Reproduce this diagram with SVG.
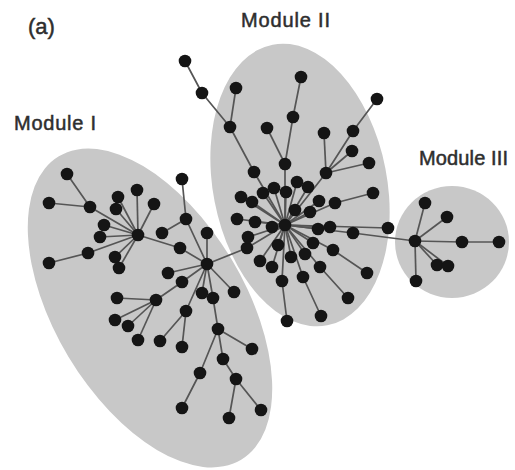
<svg xmlns="http://www.w3.org/2000/svg" width="515" height="470" viewBox="0 0 515 470">
  <style>
    .module { fill: #c8c8c8; stroke: none; }
    .edge { fill: none; stroke: #555555; stroke-width: 1.7; stroke-linejoin: round; }
    .node use { fill: #151515; }
    .label { font-family: "Liberation Sans", Arial, Helvetica, sans-serif; font-size: 20px; fill: #2e2e2e; stroke: #2e2e2e; stroke-width: 0.5; }
  </style>
  <defs>
    <circle id="dot" r="6.3"/>
  </defs>
  <rect width="515" height="470" fill="#ffffff"/>

  <!-- module backgrounds -->
  <g id="modules">
    <ellipse id="module-1" class="module" cx="150" cy="308" rx="177" ry="95" transform="rotate(59 150 308)"/>
    <ellipse id="module-2" class="module" cx="300" cy="185" rx="87" ry="143" transform="rotate(-11 300 185)"/>
    <ellipse id="module-3" class="module" cx="452" cy="242" rx="57" ry="56"/>
  </g>

  <!-- labels -->
  <text class="label" x="28" y="34" style="font-size:22px">(a)</text>
  <text class="label" x="14" y="130" textLength="82">Module I</text>
  <text class="label" x="241" y="27" textLength="89">Module II</text>
  <text class="label" x="419" y="165" textLength="89">Module III</text>

  <!-- connectors -->
  <g id="connectors" class="edge">
    <!-- module I, first hub -->
    <polyline points="67,174 90,207 138,235"/>
    <line x1="49" y1="203" x2="90" y2="207"/>
    <line x1="118" y1="197" x2="138" y2="235"/>
    <line x1="116" y1="209" x2="138" y2="235"/>
    <line x1="137" y1="190" x2="138" y2="235"/>
    <line x1="154" y1="204" x2="138" y2="235"/>
    <line x1="104" y1="225" x2="138" y2="235"/>
    <line x1="100" y1="237" x2="138" y2="235"/>
    <polyline points="49,263 88,253 138,235"/>
    <line x1="115" y1="257" x2="138" y2="235"/>
    <line x1="119" y1="268" x2="138" y2="235"/>
    <!-- module I, second hub -->
    <polyline points="138,235 180,248 207,264"/>
    <polyline points="162,233 186,219 207,264"/>
    <line x1="182" y1="179" x2="186" y2="219"/>
    <line x1="207" y1="233" x2="207" y2="264"/>
    <line x1="168" y1="273" x2="207" y2="264"/>
    <polyline points="207,264 182,282 156,300"/>
    <line x1="117" y1="298" x2="156" y2="300"/>
    <line x1="115" y1="320" x2="156" y2="300"/>
    <line x1="128" y1="326" x2="156" y2="300"/>
    <line x1="138" y1="340" x2="156" y2="300"/>
    <line x1="202" y1="293" x2="207" y2="264"/>
    <polyline points="207,264 186,311 160,341"/>
    <line x1="186" y1="311" x2="182" y2="347"/>
    <polyline points="207,264 213,298 218,329 252,349"/>
    <polyline points="218,329 200,373 182,408"/>
    <polyline points="218,329 223,359 236,379 229,418"/>
    <line x1="236" y1="379" x2="261" y2="410"/>
    <line x1="207" y1="264" x2="234" y2="292"/>
    <!-- link module I to module II -->
    <polyline points="207,264 247,248 285,225"/>
    <!-- module II branches -->
    <polyline points="185,61 202,93 230,127 254,172 285,225"/>
    <line x1="236" y1="88" x2="230" y2="127"/>
    <polyline points="301,77 293,117 285,164 285,225"/>
    <line x1="267" y1="128" x2="285" y2="164"/>
    <polyline points="377,99 353,131 326,173 285,225"/>
    <line x1="324" y1="133" x2="326" y2="173"/>
    <line x1="352" y1="151" x2="326" y2="173"/>
    <line x1="369" y1="163" x2="326" y2="173"/>
    <polyline points="373,193 335,203 285,225"/>
    <polyline points="367,273 333,250 285,225"/>
    <polyline points="348,298 320,267 285,225"/>
    <polyline points="321,316 303,277 285,225"/>
    <polyline points="287,321 282,281 285,225"/>
    <line x1="263" y1="193" x2="285" y2="225"/>
    <line x1="274" y1="188" x2="285" y2="225"/>
    <line x1="286" y1="192" x2="285" y2="225"/>
    <line x1="297" y1="182" x2="285" y2="225"/>
    <line x1="308" y1="187" x2="285" y2="225"/>
    <line x1="241" y1="197" x2="285" y2="225"/>
    <line x1="252" y1="202" x2="285" y2="225"/>
    <line x1="319" y1="201" x2="285" y2="225"/>
    <line x1="295" y1="210" x2="285" y2="225"/>
    <line x1="310" y1="212" x2="285" y2="225"/>
    <line x1="237" y1="219" x2="285" y2="225"/>
    <line x1="255" y1="222" x2="285" y2="225"/>
    <line x1="272" y1="227" x2="285" y2="225"/>
    <line x1="318" y1="229" x2="285" y2="225"/>
    <line x1="330" y1="227" x2="285" y2="225"/>
    <line x1="388" y1="228" x2="285" y2="225"/>
    <line x1="248" y1="237" x2="285" y2="225"/>
    <line x1="278" y1="245" x2="285" y2="225"/>
    <line x1="313" y1="243" x2="285" y2="225"/>
    <line x1="260" y1="261" x2="285" y2="225"/>
    <line x1="272" y1="267" x2="285" y2="225"/>
    <line x1="291" y1="257" x2="285" y2="225"/>
    <line x1="305" y1="254" x2="285" y2="225"/>
    <!-- link module II to module III -->
    <polyline points="285,225 353,233 415,241"/>
    <!-- module III -->
    <line x1="415" y1="241" x2="425" y2="203"/>
    <line x1="415" y1="241" x2="447" y2="217"/>
    <polyline points="415,241 462,242 499,242"/>
    <line x1="415" y1="241" x2="437" y2="265"/>
    <line x1="415" y1="241" x2="448" y2="266"/>
    <line x1="415" y1="241" x2="416" y2="281"/>
  </g>

  <!-- nodes: module I -->
  <g id="m1-hub-a" class="node"><use href="#dot" x="138" y="235"/></g>
  <g id="m1-a1" class="node"><use href="#dot" x="67" y="174"/></g>
  <g id="m1-a2" class="node"><use href="#dot" x="90" y="207"/></g>
  <g id="m1-a3" class="node"><use href="#dot" x="49" y="203"/></g>
  <g id="m1-a4" class="node"><use href="#dot" x="118" y="197"/></g>
  <g id="m1-a5" class="node"><use href="#dot" x="116" y="209"/></g>
  <g id="m1-a6" class="node"><use href="#dot" x="137" y="190"/></g>
  <g id="m1-a7" class="node"><use href="#dot" x="154" y="204"/></g>
  <g id="m1-a8" class="node"><use href="#dot" x="104" y="225"/></g>
  <g id="m1-a9" class="node"><use href="#dot" x="100" y="237"/></g>
  <g id="m1-a10" class="node"><use href="#dot" x="88" y="253"/></g>
  <g id="m1-a11" class="node"><use href="#dot" x="49" y="263"/></g>
  <g id="m1-a12" class="node"><use href="#dot" x="115" y="257"/></g>
  <g id="m1-a13" class="node"><use href="#dot" x="119" y="268"/></g>
  <g id="m1-hub-b" class="node"><use href="#dot" x="207" y="264"/></g>
  <g id="m1-b1" class="node"><use href="#dot" x="180" y="248"/></g>
  <g id="m1-b2" class="node"><use href="#dot" x="162" y="233"/></g>
  <g id="m1-b3" class="node"><use href="#dot" x="186" y="219"/></g>
  <g id="m1-b4" class="node"><use href="#dot" x="182" y="179"/></g>
  <g id="m1-b5" class="node"><use href="#dot" x="207" y="233"/></g>
  <g id="m1-b6" class="node"><use href="#dot" x="168" y="273"/></g>
  <g id="m1-b7" class="node"><use href="#dot" x="182" y="282"/></g>
  <g id="m1-b8" class="node"><use href="#dot" x="156" y="300"/></g>
  <g id="m1-b9" class="node"><use href="#dot" x="117" y="298"/></g>
  <g id="m1-b10" class="node"><use href="#dot" x="115" y="320"/></g>
  <g id="m1-b11" class="node"><use href="#dot" x="128" y="326"/></g>
  <g id="m1-b12" class="node"><use href="#dot" x="138" y="340"/></g>
  <g id="m1-b13" class="node"><use href="#dot" x="202" y="293"/></g>
  <g id="m1-b14" class="node"><use href="#dot" x="186" y="311"/></g>
  <g id="m1-b15" class="node"><use href="#dot" x="160" y="341"/></g>
  <g id="m1-b16" class="node"><use href="#dot" x="182" y="347"/></g>
  <g id="m1-b17" class="node"><use href="#dot" x="213" y="298"/></g>
  <g id="m1-b18" class="node"><use href="#dot" x="218" y="329"/></g>
  <g id="m1-b19" class="node"><use href="#dot" x="252" y="349"/></g>
  <g id="m1-b20" class="node"><use href="#dot" x="200" y="373"/></g>
  <g id="m1-b21" class="node"><use href="#dot" x="182" y="408"/></g>
  <g id="m1-b22" class="node"><use href="#dot" x="223" y="359"/></g>
  <g id="m1-b23" class="node"><use href="#dot" x="236" y="379"/></g>
  <g id="m1-b24" class="node"><use href="#dot" x="229" y="418"/></g>
  <g id="m1-b25" class="node"><use href="#dot" x="261" y="410"/></g>
  <g id="m1-b26" class="node"><use href="#dot" x="234" y="292"/></g>

  <!-- nodes: module II -->
  <g id="m2-hub" class="node"><use href="#dot" x="285" y="225"/></g>
  <g id="m2-link" class="node"><use href="#dot" x="247" y="248"/></g>
  <g id="m2-u1" class="node"><use href="#dot" x="185" y="61"/></g>
  <g id="m2-u2" class="node"><use href="#dot" x="202" y="93"/></g>
  <g id="m2-u3" class="node"><use href="#dot" x="230" y="127"/></g>
  <g id="m2-u4" class="node"><use href="#dot" x="254" y="172"/></g>
  <g id="m2-u5" class="node"><use href="#dot" x="236" y="88"/></g>
  <g id="m2-u6" class="node"><use href="#dot" x="301" y="77"/></g>
  <g id="m2-u7" class="node"><use href="#dot" x="293" y="117"/></g>
  <g id="m2-u8" class="node"><use href="#dot" x="285" y="164"/></g>
  <g id="m2-u9" class="node"><use href="#dot" x="267" y="128"/></g>
  <g id="m2-u10" class="node"><use href="#dot" x="377" y="99"/></g>
  <g id="m2-u11" class="node"><use href="#dot" x="353" y="131"/></g>
  <g id="m2-u12" class="node"><use href="#dot" x="326" y="173"/></g>
  <g id="m2-u13" class="node"><use href="#dot" x="324" y="133"/></g>
  <g id="m2-u14" class="node"><use href="#dot" x="352" y="151"/></g>
  <g id="m2-u15" class="node"><use href="#dot" x="369" y="163"/></g>
  <g id="m2-r1" class="node"><use href="#dot" x="373" y="193"/></g>
  <g id="m2-r2" class="node"><use href="#dot" x="335" y="203"/></g>
  <g id="m2-r3" class="node"><use href="#dot" x="367" y="273"/></g>
  <g id="m2-r4" class="node"><use href="#dot" x="333" y="250"/></g>
  <g id="m2-r5" class="node"><use href="#dot" x="348" y="298"/></g>
  <g id="m2-r6" class="node"><use href="#dot" x="320" y="267"/></g>
  <g id="m2-r7" class="node"><use href="#dot" x="321" y="316"/></g>
  <g id="m2-r8" class="node"><use href="#dot" x="303" y="277"/></g>
  <g id="m2-r9" class="node"><use href="#dot" x="287" y="321"/></g>
  <g id="m2-r10" class="node"><use href="#dot" x="282" y="281"/></g>
  <g id="m2-s1" class="node"><use href="#dot" x="263" y="193"/></g>
  <g id="m2-s2" class="node"><use href="#dot" x="274" y="188"/></g>
  <g id="m2-s3" class="node"><use href="#dot" x="286" y="192"/></g>
  <g id="m2-s4" class="node"><use href="#dot" x="297" y="182"/></g>
  <g id="m2-s5" class="node"><use href="#dot" x="308" y="187"/></g>
  <g id="m2-s6" class="node"><use href="#dot" x="241" y="197"/></g>
  <g id="m2-s7" class="node"><use href="#dot" x="252" y="202"/></g>
  <g id="m2-s8" class="node"><use href="#dot" x="319" y="201"/></g>
  <g id="m2-s9" class="node"><use href="#dot" x="295" y="210"/></g>
  <g id="m2-s10" class="node"><use href="#dot" x="310" y="212"/></g>
  <g id="m2-s11" class="node"><use href="#dot" x="237" y="219"/></g>
  <g id="m2-s12" class="node"><use href="#dot" x="255" y="222"/></g>
  <g id="m2-s13" class="node"><use href="#dot" x="272" y="227"/></g>
  <g id="m2-s14" class="node"><use href="#dot" x="318" y="229"/></g>
  <g id="m2-s15" class="node"><use href="#dot" x="330" y="227"/></g>
  <g id="m2-s16" class="node"><use href="#dot" x="353" y="233"/></g>
  <g id="m2-s17" class="node"><use href="#dot" x="388" y="228"/></g>
  <g id="m2-s18" class="node"><use href="#dot" x="248" y="237"/></g>
  <g id="m2-s19" class="node"><use href="#dot" x="278" y="245"/></g>
  <g id="m2-s20" class="node"><use href="#dot" x="313" y="243"/></g>
  <g id="m2-s21" class="node"><use href="#dot" x="260" y="261"/></g>
  <g id="m2-s22" class="node"><use href="#dot" x="272" y="267"/></g>
  <g id="m2-s23" class="node"><use href="#dot" x="291" y="257"/></g>
  <g id="m2-s24" class="node"><use href="#dot" x="305" y="254"/></g>

  <!-- nodes: module III -->
  <g id="m3-hub" class="node"><use href="#dot" x="415" y="241"/></g>
  <g id="m3-n1" class="node"><use href="#dot" x="425" y="203"/></g>
  <g id="m3-n2" class="node"><use href="#dot" x="447" y="217"/></g>
  <g id="m3-n3" class="node"><use href="#dot" x="462" y="242"/></g>
  <g id="m3-n4" class="node"><use href="#dot" x="499" y="242"/></g>
  <g id="m3-n5" class="node"><use href="#dot" x="437" y="265"/></g>
  <g id="m3-n6" class="node"><use href="#dot" x="448" y="266"/></g>
  <g id="m3-n7" class="node"><use href="#dot" x="416" y="281"/></g>
</svg>
